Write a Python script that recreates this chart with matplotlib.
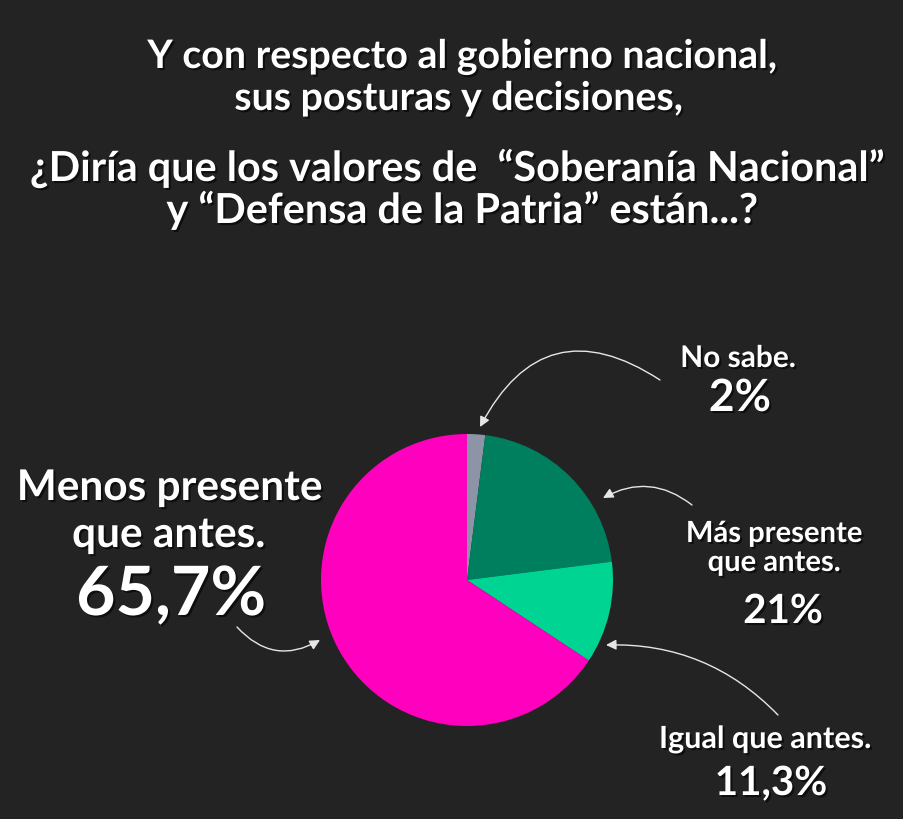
import matplotlib
matplotlib.use('Agg')
from matplotlib import pyplot as plt
import matplotlib.patheffects as pe

# datos del gráfico (orden horario desde arriba)
categorias = ['No sabe.', 'Más presente que antes.', 'Igual que antes.', 'Menos presente que antes.']
valores = [2.0, 21.0, 11.3, 65.7]
etiquetas_pct = ['2%', '21%', '11,3%', '65,7%']
colores = ['#8e94a8', '#007f5f', '#00d492', '#ff00bf']

W, H = 904, 819
BG = '#232323'

fig = plt.figure(figsize=(W / 100, H / 100), dpi=100)
fig.patch.set_facecolor(BG)

# eje del pie: centro (467, 580), radio 146 px
cx, cy, r = 467, 580, 146
ax = fig.add_axes([(cx - r) / W, (H - cy - r) / H, 2 * r / W, 2 * r / H])
ax.pie(valores, colors=colores, startangle=90, counterclock=False, radius=1,
       wedgeprops={'linewidth': 0})
ax.set_xlim(-1, 1)
ax.set_ylim(-1, 1)
ax.set_aspect('equal')
ax.axis('off')

sombra = [pe.withSimplePatchShadow(offset=(1.5, -1.5), shadow_rgbFace='black', alpha=0.6)]
FUENTE = 'Lato'


def texto(x, y, s, size):
    # coordenadas en pixeles de la imagen (y hacia abajo), y = linea base
    fig.text(x / W, 1 - y / H, s, ha='center', va='baseline', color='white',
             fontsize=size, fontweight='bold', family=FUENTE, path_effects=sombra)


# titulo
texto(462, 68, 'Y con respecto al gobierno nacional,', 28.3)
texto(458, 110, 'sus posturas y decisiones,', 28.3)
texto(457, 181, '¿Diría que los valores de  “Soberanía Nacional”', 29.8)
texto(462, 223, 'y “Defensa de la Patria” están...?', 29.8)

# etiquetas
texto(738, 367, 'No sabe.', 21.5)
texto(740, 411, etiquetas_pct[0], 32)
texto(774, 542, 'Más presente', 21)
texto(774, 571, 'que antes.', 21)
texto(783, 623, etiquetas_pct[1], 29)
texto(765, 748, categorias[2], 22)
texto(771, 795, etiquetas_pct[2], 29)
texto(170, 500, 'Menos presente', 30.5)
texto(169, 547, 'que antes.', 30.5)
texto(171, 615, etiquetas_pct[3], 49)


def flecha(x0, y0, x1, y1, rad):
    fig.add_artist(matplotlib.patches.FancyArrowPatch(
        (x0, H - y0), (x1, H - y1), transform=None,
        connectionstyle=f'arc3,rad={rad}',
        arrowstyle='-|>,head_length=0.6,head_width=0.3',
        mutation_scale=10, color='#e6e6e6', lw=1, shrinkA=0, shrinkB=0))


flecha(660, 380, 480, 427, 0.55)
flecha(692, 505, 603, 498, 0.33)
flecha(778, 715, 606, 645, 0.22)
flecha(237, 627, 320, 640, 0.4)

fig.savefig('out.png', dpi=100, facecolor=BG)
plt.close()
